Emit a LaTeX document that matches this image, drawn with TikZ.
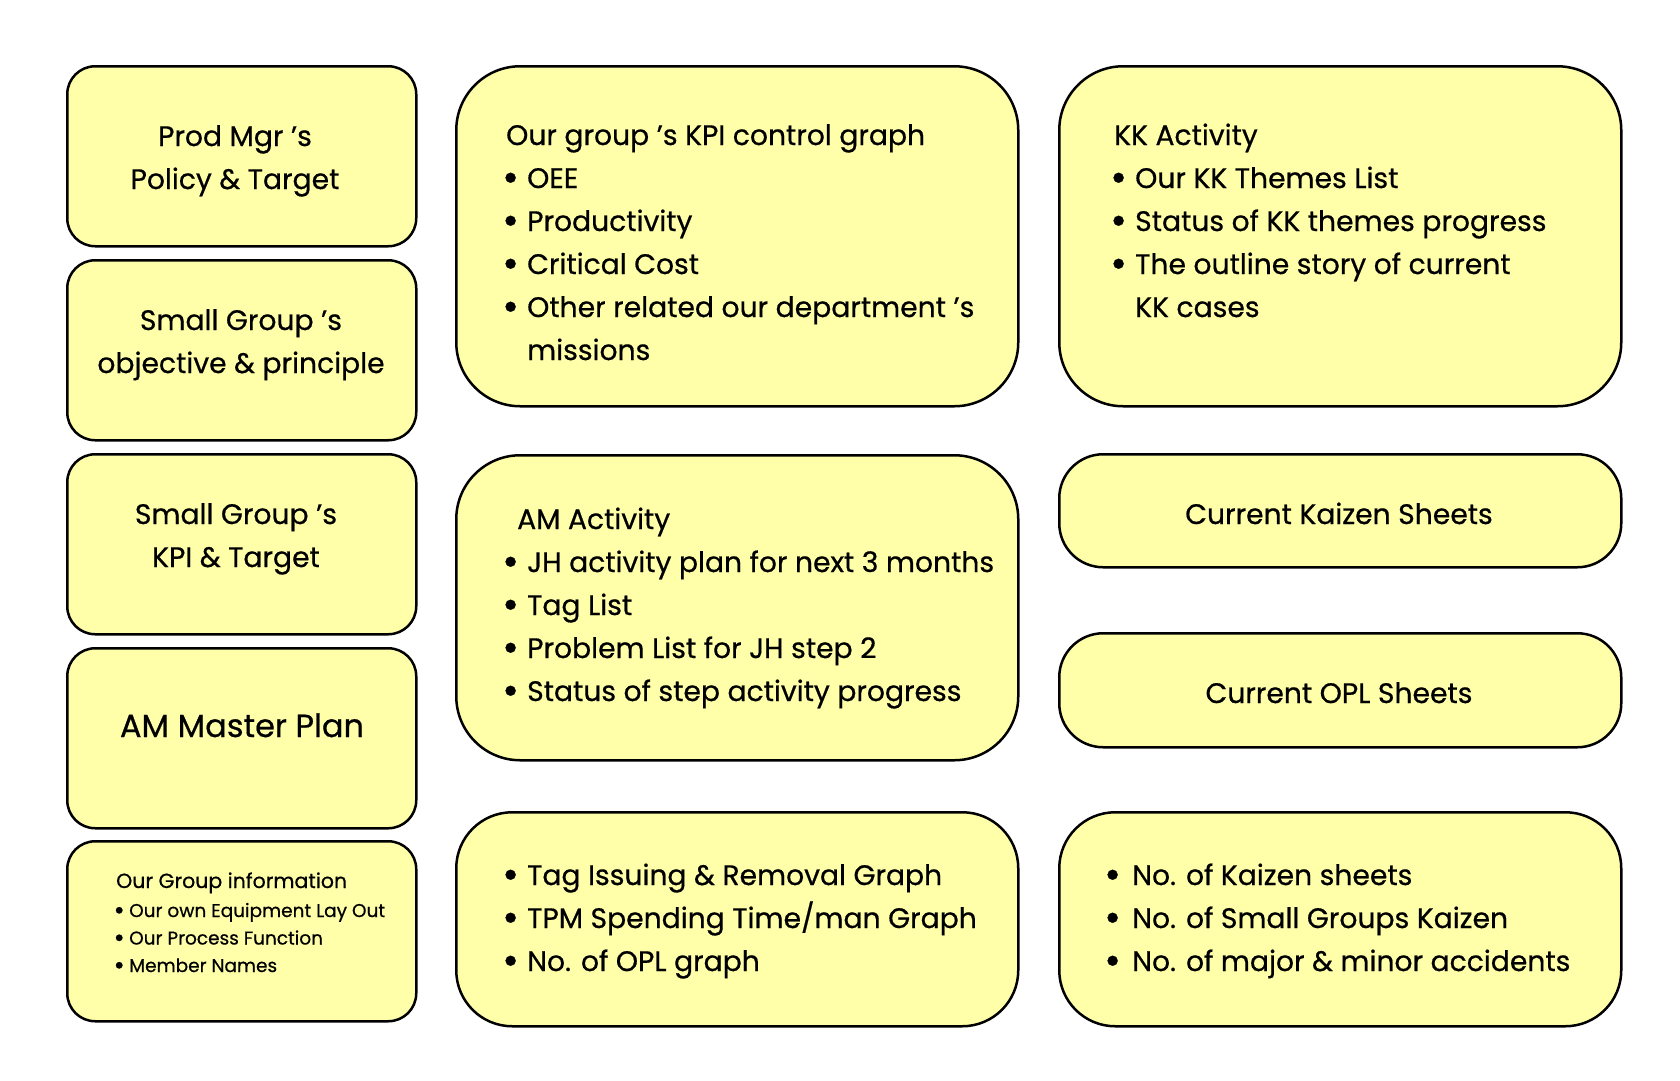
\documentclass[tikz,border=0pt]{standalone}
\usepackage{fontspec}
\usepackage{graphicx}
\setmainfont{Poppins}[FakeBold=0.6]
\definecolor{cardfill}{RGB}{255,255,170}
\newcommand\bdot{\raisebox{-0.12em}{\scalebox{1.45}{•}}}
\newcommand\bitem[1]{\makebox[21pt][l]{\hspace{-4pt}\bdot}#1}
\newcommand\sitem[1]{\makebox[13pt][l]{\hspace{-2.5pt}\bdot}#1}
\newcommand\ritem[1]{\makebox[24pt][l]{\hspace{-4pt}\bdot}#1}
\begin{document}
\begin{tikzpicture}[x=1pt,y=-1pt,
  card/.style={draw=black, line width=2.5pt, fill=cardfill, rounded corners=#1,
    anchor=north west, inner sep=0pt},
  txt/.style={inner sep=0pt, font=\fontsize{28.2}{43}\selectfont},
  small/.style={inner sep=0pt, font=\fontsize{20.5}{29}\selectfont},
  tiny/.style={inner sep=0pt, font=\fontsize{18.5}{27.5}\selectfont}]
\useasboundingbox (0,0) rectangle (1680,1080);
% left column
\node[card=28pt, minimum width=349pt, minimum height=180pt] (b1) at (66,65) {};
\node[card=28pt, minimum width=349pt, minimum height=180pt] (b2) at (66,259) {};
\node[card=28pt, minimum width=349pt, minimum height=180pt] (b3) at (66,453) {};
\node[card=28pt, minimum width=349pt, minimum height=180pt] (b4) at (66,647) {};
\node[card=28pt, minimum width=349pt, minimum height=180pt] (b5) at (66,840) {};
% middle column
\node[card=64pt, minimum width=562pt, minimum height=340pt] (m1) at (455,65) {};
\node[card=64pt, minimum width=562pt, minimum height=305pt] (m2) at (455,454) {};
\node[card=56pt, minimum width=562pt, minimum height=214pt] (m3) at (455,811) {};
% right column
\node[card=64pt, minimum width=562pt, minimum height=340pt] (r1) at (1058,65) {};
\node[card=44pt, minimum width=562pt, minimum height=113pt] (r2) at (1058,453) {};
\node[card=44pt, minimum width=562pt, minimum height=114pt] (r3) at (1058,632) {};
\node[card=56pt, minimum width=562pt, minimum height=214pt] (r4) at (1058,811) {};
% left texts
\node[txt, anchor=base] (t1) at (235,146) {\begin{tabular}[t]{@{}c@{}}Prod Mgr ’s\\Policy \& Target\end{tabular}};
\node[txt, anchor=base] (t2) at (241,330) {\begin{tabular}[t]{@{}c@{}}Small Group ’s\\objective \& principle\end{tabular}};
\node[txt, anchor=base] (t3) at (236,524) {\begin{tabular}[t]{@{}c@{}}Small Group ’s\\KPI \& Target\end{tabular}};
\node[inner sep=0pt, font=\fontsize{32}{40}\selectfont, anchor=base] (t4) at (242,737) {AM Master Plan};
\node[small, anchor=base west] (t5) at (116,888) {Our Group information};
\node[tiny, anchor=base west] (t5b) at (116,917) {\begin{tabular}[t]{@{}l@{}}\sitem{Our own Equipment Lay Out}\\\sitem{Our Process Function}\\\sitem{Member Names}\end{tabular}};
% middle texts
\node[txt, anchor=base west] (t6) at (506,145) {\begin{tabular}[t]{@{}l@{}}Our group ’s KPI control graph\\\bitem{OEE}\\\bitem{Productivity}\\\bitem{Critical Cost}\\\bitem{Other related our department ’s}\\\hspace{21pt}missions\end{tabular}};
\node[txt, anchor=base west] (t7) at (506,529) {\begin{tabular}[t]{@{}l@{}}\hspace{11pt}AM Activity\\\bitem{JH activity plan for next 3 months}\\\bitem{Tag List}\\\bitem{Problem List for JH step 2}\\\bitem{Status of step activity progress}\end{tabular}};
\node[txt, anchor=base west] (t8) at (506,885) {\begin{tabular}[t]{@{}l@{}}\bitem{Tag Issuing \& Removal Graph}\\\bitem{TPM Spending Time/man Graph}\\\bitem{No. of OPL graph}\end{tabular}};
% right texts
\node[txt, anchor=base west] (t9) at (1114,145) {\begin{tabular}[t]{@{}l@{}}KK Activity\\\bitem{Our KK Themes List}\\\bitem{Status of KK themes progress}\\\bitem{The outline story of current}\\\hspace{21pt}KK cases\end{tabular}};
\node[txt, anchor=base] (t10) at (1339,524) {Current Kaizen Sheets};
\node[txt, anchor=base] (t11) at (1339,703) {Current OPL Sheets};
\node[txt, anchor=base west] (t12) at (1108,885) {\begin{tabular}[t]{@{}l@{}}\ritem{No. of Kaizen sheets}\\\ritem{No. of Small Groups Kaizen}\\\ritem{No. of major \& minor accidents}\end{tabular}};
\end{tikzpicture}
\end{document}
